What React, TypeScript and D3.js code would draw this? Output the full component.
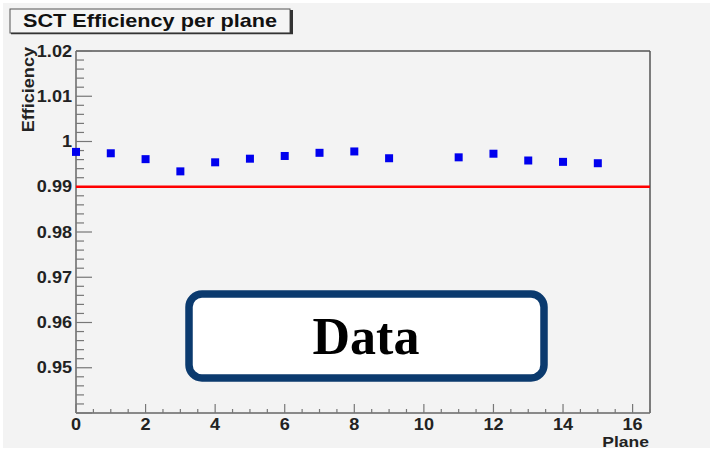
import React from "react";
import * as d3 from "d3";

const planes = [0, 1, 2, 3, 4, 5, 6, 7, 8, 9, 11, 12, 13, 14, 15];
const efficiency = [0.9977, 0.9974, 0.9961, 0.9934, 0.9954, 0.9962, 0.9968, 0.9975, 0.9978, 0.9963, 0.9965, 0.9973, 0.9958, 0.9955, 0.9952];
const threshold = 0.99;
const yTickValues = [0.95, 0.96, 0.97, 0.98, 0.99, 1, 1.01, 1.02];
const yTickLabels = ["0.95", "0.96", "0.97", "0.98", "0.99", "1", "1.01", "1.02"];
const xTickValues = [0, 2, 4, 6, 8, 10, 12, 14, 16];
const title = "SCT Efficiency per plane";
const xTitle = "Plane";
const yTitle = "Efficiency";
const boxText = "Data";

const W = 710;
const H = 454;
const left = 76;
const right = 650;
const top = 51;
const bottom = 413;

export default function App() {
  const x = d3.scaleLinear().domain([0, 16.5]).range([left, right]);
  const y = d3.scaleLinear().domain([0.94, 1.02]).range([bottom, top]);

  const yMinor: number[] = d3.range(0, 41).map((i) => 0.94 + i * 0.002);
  const xMinor: number[] = d3.range(0, 34).map((i) => i * 0.5);

  const font = "'Liberation Sans', Arial, Helvetica, sans-serif";
  const axisColor = "#666";
  const sx = 1.13;

  return (
    <svg width={W} height={H} style={{ position: "absolute", left: 0, top: 0 }} xmlns="http://www.w3.org/2000/svg">
      <rect x={0} y={0} width={W} height={H} fill="#ffffff" />
      <rect x={3} y={3} width={W - 3} height={445} fill="#f3f3f3" />

      {/* title box */}
      <rect x={10} y={9} width={280} height={24} fill="#f5f5f5" stroke="#555" strokeWidth={1} />
      <line x1={291.5} y1={10} x2={291.5} y2={34} stroke="#333" strokeWidth={3} />
      <line x1={11} y1={33.5} x2={293} y2={33.5} stroke="#333" strokeWidth={1.5} />
      <text x={23} y={27} fontFamily={font} fontWeight="bold" fontSize={18.5} fill="#111" textLength={254} lengthAdjust="spacingAndGlyphs">
        {title}
      </text>

      {/* frame */}
      <line x1={left} y1={top} x2={right} y2={top} stroke="#555" strokeWidth={1.5} />
      <line x1={right} y1={top} x2={right} y2={bottom} stroke="#555" strokeWidth={1.5} />
      <line x1={left} y1={top} x2={left} y2={bottom} stroke={axisColor} strokeWidth={1.5} />
      <line x1={left} y1={bottom} x2={right} y2={bottom} stroke={axisColor} strokeWidth={1.5} />

      {/* y ticks */}
      {yMinor.map((v, i) => {
        const major = i % 5 === 0;
        return (
          <line key={"ym" + i} x1={left} x2={left + (major ? 16 : 8)} y1={y(v)} y2={y(v)} stroke="#777" strokeWidth={1.2} />
        );
      })}
      {yTickValues.map((v, i) => (
        <g key={"yl" + i} transform={`translate(${left - 4},${y(v) + 5.5}) scale(${sx},1)`}>
          <text x={0} y={0} textAnchor="end" fontFamily={font} fontWeight="bold" fontSize={16} fill="#222">
            {yTickLabels[i]}
          </text>
        </g>
      ))}

      {/* x ticks */}
      {xMinor.map((v, i) => {
        const major = i % 4 === 0;
        return (
          <line key={"xm" + i} x1={x(v)} x2={x(v)} y1={bottom} y2={bottom - (major ? 9 : 4)} stroke="#777" strokeWidth={1.2} />
        );
      })}
      {xTickValues.map((v, i) => (
        <g key={"xl" + i} transform={`translate(${x(v)},${bottom + 16.5}) scale(${sx},1)`}>
          <text x={0} y={0} textAnchor="middle" fontFamily={font} fontWeight="bold" fontSize={16} fill="#222">
            {String(v)}
          </text>
        </g>
      ))}

      {/* axis titles */}
      <g transform={`translate(${right - 1},${447}) scale(${sx},1)`}>
        <text x={0} y={0} textAnchor="end" fontFamily={font} fontWeight="bold" fontSize={15.5} fill="#222">
          {xTitle}
        </text>
      </g>
      <g transform={`translate(34,${47}) rotate(-90) scale(${sx},1)`}>
        <text x={0} y={0} textAnchor="end" fontFamily={font} fontWeight="bold" fontSize={16} fill="#222">
          {yTitle}
        </text>
      </g>

      {/* threshold line */}
      <line x1={left} x2={right} y1={y(threshold)} y2={y(threshold)} stroke="#ff0000" strokeWidth={2.5} />

      {/* points */}
      {planes.map((p, i) => (
        <rect key={"p" + i} x={x(p) - 4} y={y(efficiency[i]) - 4} width={8} height={8} fill="#0000ee" />
      ))}

      {/* Data box */}
      <rect x={189} y={294} width={355} height={84} rx={13} ry={13} fill="#ffffff" stroke="#0b3a6e" strokeWidth={7.5} />
      <text x={366} y={354} textAnchor="middle" fontFamily="'Liberation Serif', 'Times New Roman', serif" fontWeight="bold" fontSize={52} fill="#000">
        {boxText}
      </text>
    </svg>
  );
}
